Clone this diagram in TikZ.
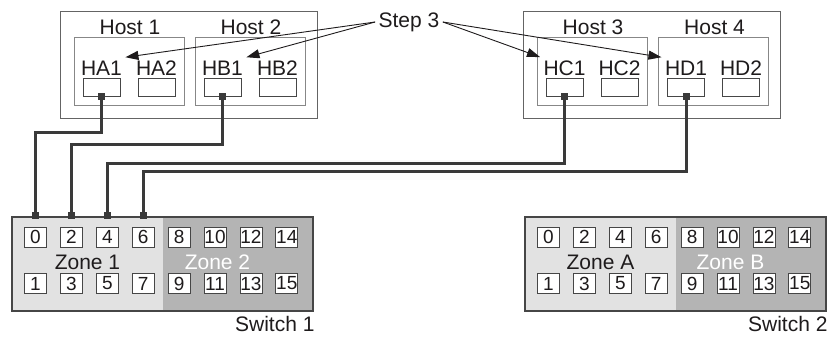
\documentclass[tikz,border=0pt]{standalone}
\usepackage{fontspec}
\setmainfont{Liberation Sans}
\usepackage{tikz}
\usetikzlibrary{arrows.meta}
\definecolor{SanLine}{RGB}{70,70,70}
\definecolor{SanBox}{RGB}{100,100,100}
\definecolor{SanInner}{RGB}{135,135,135}
\definecolor{SanWire}{RGB}{58,58,58}
\definecolor{SanZoneLight}{RGB}{226,226,226}
\definecolor{SanZoneDark}{RGB}{180,180,180}
\definecolor{SanText}{RGB}{30,27,28}

\begin{document}
\begin{tikzpicture}[x=1pt,y=-1pt,font=\fontsize{21}{25}\selectfont,text=SanText,
outer/.style={draw=SanBox,line width=1pt,minimum width=257pt,minimum height=107pt,inner sep=0pt,rectangle},
inner/.style={draw=SanInner,line width=1pt,minimum width=110pt,minimum height=68pt,inner sep=0pt,rectangle},
hport/.style={draw=SanLine,line width=0.8pt,minimum width=37pt,minimum height=18pt,inner sep=0pt,rectangle},
sport/.style={draw=SanLine,fill=white,line width=0.8pt,minimum width=22pt,minimum height=20pt,inner sep=0pt,rectangle,font=\fontsize{19}{20}\selectfont},
switch/.style={draw=SanLine,line width=2.5pt,fill=SanZoneDark,minimum width=301pt,minimum height=94pt,inner sep=0pt,rectangle,
   path picture={\fill[SanZoneLight] (path picture bounding box.north west) rectangle (path picture bounding box.south);}},
plug/.style={fill=SanWire,minimum size=7pt,inner sep=0pt,rectangle},
wire/.style={draw=SanWire,line width=3pt},
callout/.style={draw=SanText,line width=0.9pt,-{Triangle[length=13pt,width=9pt]}}]
\useasboundingbox (0,0) rectangle (832,339);
\node[outer](hp1) at (188.5,65) {};
\node[outer](hp2) at (651.5,65) {};
\foreach \h/\n/\x in {1/A/129,2/B/250,3/C/592,4/D/713.5} {
   \node[inner](host\h) at (\x,72) {};
   \node(t\h) at (\x+1,27) {Host \h};
   \node[hport](p\n1) at (\x-27.5,87) {};
   \node[hport](p\n2) at (\x+27.5,87) {};
   \node(l\n1) at (\x-27.5,68) {H\n1};
   \node(l\n2) at (\x+27.5,68) {H\n2};
}
\foreach \s/\x/\za/\zb in {1/162.5/1/2,2/675.5/A/B} {
   \node[switch](sw\s) at (\x,264) {};
   \foreach \i in {0,...,7} {
      \pgfmathtruncatemacro\t{2*\i}
      \pgfmathtruncatemacro\b{2*\i+1}
      \node[sport](s\s p\t) at ({\x-127+35.9*\i},237) {\t};
      \node[sport](s\s p\b) at ({\x-127+35.9*\i},283.5) {\b};
   }
   \node(z\s a) at (\x-75,262) {Zone \za};
   \node[text=white](z\s b) at (\x+55,262) {Zone \zb};
   \node[anchor=east](n\s) at (\x+155.5,324) {Switch \s};
}
\foreach \n/\p/\d in {A/0/36,B/2/48,C/4/67,D/6/75} {
   \node[plug](c\n) at (p\n1.south) {};
   \node[plug](c\p) at (s1p\p |- sw1.north) {};
   \draw[wire] (c\n) -- ++(0,\d) -| (c\p);
}
\node(step) at (409,22) {Step 3};
\draw[callout] (step.west) -- (lA1.north east);
\draw[callout] (step.west) -- (lB1.north east);
\draw[callout] (step.east) -- (lC1.north west);
\draw[callout] (step.east) -- (lD1.north west);
\end{tikzpicture}
\end{document}
